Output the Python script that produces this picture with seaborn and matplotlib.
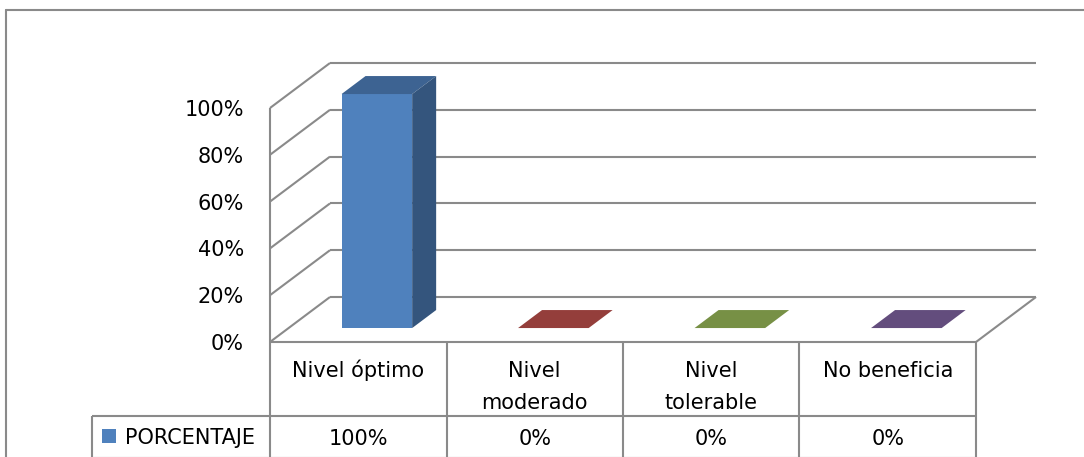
import textwrap

import numpy as np
import pandas as pd
import matplotlib
matplotlib.use("Agg")
import matplotlib.pyplot as plt
import matplotlib.colors as mcolors
from matplotlib.patches import Polygon
from matplotlib.lines import Line2D
import seaborn as sns

# ---- data -------------------------------------------------------------
categories = ["Nivel óptimo", "Nivel moderado", "Nivel tolerable", "No beneficia"]
porcentaje = [1.00, 0.00, 0.00, 0.00]
series_name = "PORCENTAJE"
y_ticks = [0.0, 0.2, 0.4, 0.6, 0.8, 1.0]
bar_colors = ["#4F81BD", "#C0504D", "#9BBB59", "#8064A2"]

# ---- style ------------------------------------------------------------
sns.set_style("white")
plt.rcParams["font.family"] = ["DejaVu Sans"]
FONT_SIZE = 15
LINE_COLOR = "#8a8a8a"
LINE_W = 1.5

W, H, DPI = 1084, 457, 100
fig = plt.figure(figsize=(W / DPI, H / DPI), dpi=DPI, facecolor="white")

# 3-D box geometry (display pixels)
FRONT_X0, FRONT_X1 = 270.0, 976.0     # floor front edge
FLOOR_FRONT_Y = H - 342.0              # display y of floor front edge
VALUE_SPAN = 234.0                     # pixels for 0% -> 100%
DEPTH = np.array([60.0, 45.0])         # floor depth vector
BAR_F0, BAR_F1 = 0.31, 0.71            # bar depth (front / back) as fraction of floor depth

# axes placed on the plane of the bars' front faces
ax_left = FRONT_X0 + DEPTH[0] * BAR_F0
ax_bottom = FLOOR_FRONT_Y + DEPTH[1] * BAR_F0
ax = fig.add_axes([ax_left / W, ax_bottom / H,
                   (FRONT_X1 - FRONT_X0) / W, VALUE_SPAN / H])

df = pd.DataFrame({"categoria": categories, "valor": porcentaje})
sns.barplot(data=df, x="categoria", y="valor", hue="categoria",
            palette=bar_colors, saturation=1, width=0.4, errorbar=None,
            legend=False, linewidth=0, ax=ax, zorder=2)
n = len(categories)
ax.set_xlim(-0.5, n - 0.5)
ax.set_ylim(0, 1)
ax.set_axis_off()


def on_plane(x, y, f, dx=0.0, dy=0.0):
    """Data point (x, y) moved to depth fraction f, plus a pixel offset."""
    px, py = ax.transData.transform((x, y))
    off = DEPTH * (f - BAR_F0)
    return ax.transData.inverted().transform((px + off[0] + dx, py + off[1] + dy))


def seg(p, q, **kw):
    kw.setdefault("color", LINE_COLOR)
    kw.setdefault("lw", LINE_W)
    kw.setdefault("zorder", 0.5)
    ax.add_line(Line2D([p[0], q[0]], [p[1], q[1]], clip_on=False,
                       solid_capstyle="butt", **kw))


x_lo, x_hi = -0.5, n - 0.5

# walls: back-wall gridlines and side-wall diagonals
for v in y_ticks:
    seg(on_plane(x_lo, v, 1.0), on_plane(x_hi, v, 1.0))
    seg(on_plane(x_lo, v, 0.0), on_plane(x_lo, v, 1.0))
# front vertical edge of the side wall
seg(on_plane(x_lo, 0, 0.0), on_plane(x_lo, 1, 0.0))
# floor edges
seg(on_plane(x_lo, 0, 0.0), on_plane(x_hi, 0, 0.0))
seg(on_plane(x_hi, 0, 0.0), on_plane(x_hi, 0, 1.0))

# value axis labels on the front edge
for v in y_ticks:
    tx, ty = on_plane(x_lo, v, 0.0, dx=-26, dy=-2)
    ax.text(tx, ty, f"{v:.0%}", ha="right", va="center",
            fontsize=FONT_SIZE, color="black", clip_on=False)

# 3-D faces of the bars (top and right side)
for patch in ax.patches:
    x0, w, h = patch.get_x(), patch.get_width(), patch.get_height()
    base = np.array(mcolors.to_rgb(patch.get_facecolor()))
    top_c = base * 0.77
    side_c = base * 0.66
    top = [on_plane(x0, h, BAR_F0), on_plane(x0 + w, h, BAR_F0),
           on_plane(x0 + w, h, BAR_F1), on_plane(x0, h, BAR_F1)]
    ax.add_patch(Polygon(top, closed=True, facecolor=top_c, edgecolor="none",
                         clip_on=False, zorder=3))
    if h > 0:
        side = [on_plane(x0 + w, 0, BAR_F0), on_plane(x0 + w, 0, BAR_F1),
                on_plane(x0 + w, h, BAR_F1), on_plane(x0 + w, h, BAR_F0)]
        ax.add_patch(Polygon(side, closed=True, facecolor=side_c,
                             edgecolor="none", clip_on=False, zorder=3))

# ---- data table under the floor -------------------------------------
HEAD_H, ROW_B = 74.0, 115.5
LEG_DX = -178.0
for i in range(n + 1):
    xe = x_lo + i
    seg(on_plane(xe, 0, 0.0), on_plane(xe, 0, 0.0, dy=-ROW_B))
seg(on_plane(x_lo, 0, 0.0, dx=LEG_DX, dy=-HEAD_H), on_plane(x_hi, 0, 0.0, dy=-HEAD_H))
seg(on_plane(x_lo, 0, 0.0, dx=LEG_DX, dy=-HEAD_H),
    on_plane(x_lo, 0, 0.0, dx=LEG_DX, dy=-ROW_B))
seg(on_plane(x_lo, 0, 0.0, dx=LEG_DX, dy=-ROW_B), on_plane(x_hi, 0, 0.0, dy=-ROW_B))

for i, (cat, val) in enumerate(zip(categories, porcentaje)):
    for k, line in enumerate(textwrap.wrap(cat, 13)):
        tx, ty = on_plane(i, 0, 0.0, dy=-35 - 32 * k)
        ax.text(tx, ty, line, ha="center", va="baseline",
                fontsize=FONT_SIZE, color="black", clip_on=False)
    tx, ty = on_plane(i, 0, 0.0, dy=-103)
    ax.text(tx, ty, f"{val:.0%}", ha="center", va="baseline",
            fontsize=FONT_SIZE, color="black", clip_on=False)

# legend key in the table's row header
key = [on_plane(x_lo, 0, 0.0, dx=LEG_DX + 10, dy=-87),
       on_plane(x_lo, 0, 0.0, dx=LEG_DX + 24, dy=-87),
       on_plane(x_lo, 0, 0.0, dx=LEG_DX + 24, dy=-101),
       on_plane(x_lo, 0, 0.0, dx=LEG_DX + 10, dy=-101)]
ax.add_patch(Polygon(key, closed=True, facecolor=bar_colors[0],
                     edgecolor="none", clip_on=False, zorder=3))
tx, ty = on_plane(x_lo, 0, 0.0, dx=LEG_DX + 33, dy=-102)
ax.text(tx, ty, series_name, ha="left", va="baseline",
        fontsize=FONT_SIZE, color="black", clip_on=False)

# chart area border
fig.add_artist(Line2D([6 / W, 1.0], [1 - 10 / H, 1 - 10 / H],
                      transform=fig.transFigure, color=LINE_COLOR, lw=LINE_W))
fig.add_artist(Line2D([6 / W, 6 / W], [0.0, 1 - 10 / H],
                      transform=fig.transFigure, color=LINE_COLOR, lw=LINE_W))

fig.savefig("out.png", dpi=DPI, facecolor="white")
